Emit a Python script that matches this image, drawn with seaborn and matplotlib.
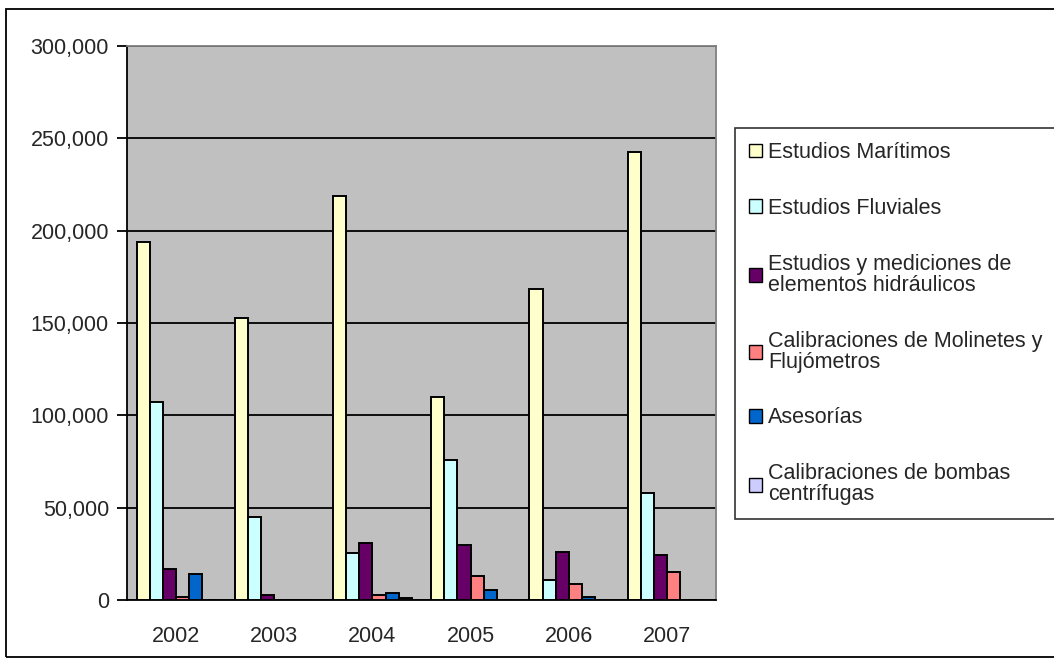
import pandas as pd
import seaborn as sns
import matplotlib.pyplot as plt
import matplotlib.patches as mpatches
from matplotlib.ticker import FuncFormatter, FixedLocator

years = ['2002', '2003', '2004', '2005', '2006', '2007']
series = ['Estudios Marítimos', 'Estudios Fluviales',
          'Estudios y mediciones de\nelementos hidráulicos',
          'Calibraciones de Molinetes y\nFlujómetros',
          'Asesorías',
          'Calibraciones de bombas\ncentrífugas']
maritimos = [194000, 152500, 219000, 110000, 168500, 242500]
fluviales = [107000, 45000, 25300, 76000, 11000, 58000]
hidraulicos = [16800, 2900, 31000, 30000, 26000, 24500]
molinetes = [1800, 0, 2700, 13000, 8500, 15000]
asesorias = [14000, 0, 3800, 5400, 1800, 0]
bombas = [0, 0, 900, 0, 0, 0]
colors = ['#FFFFCC', '#CCFFFF', '#660066', '#FF8080', '#0066CC', '#CCCCFF']

values = [maritimos, fluviales, hidraulicos, molinetes, asesorias, bombas]
df = pd.DataFrame([(y, s, v[i]) for s, v in zip(series, values)
                   for i, y in enumerate(years)],
                  columns=['year', 'serie', 'value'])

sns.set_style('white')
plt.rcParams['font.family'] = ['Liberation Sans', 'DejaVu Sans']

fig = plt.figure(figsize=(10.54, 6.65), dpi=100)
ax = fig.add_axes([127 / 1054, 1 - 600 / 665, (716 - 127) / 1054, (600 - 46) / 665])

sns.barplot(data=df, x='year', y='value', hue='serie', hue_order=series,
            palette=colors, edgecolor='black', linewidth=1.4, width=0.8,
            saturation=1, legend=False, ax=ax, zorder=3)

ax.set_facecolor('#C0C0C0')
ax.set_ylim(0, 300000)
ax.set_xlim(-0.5, 5.5)
ax.set_yticks(range(0, 300001, 50000))
ax.yaxis.set_major_formatter(FuncFormatter(lambda v, p: f'{int(v):,}'))
ax.yaxis.grid(True, color='black', linewidth=1.3, zorder=1)
ax.set_axisbelow(True)
ax.set_xlabel('')
ax.set_ylabel('')

ax.xaxis.set_minor_locator(FixedLocator([i - 0.5 for i in range(7)]))
ax.tick_params(axis='x', which='major', length=0, pad=19, labelsize=15.5)
ax.tick_params(axis='x', which='minor', length=7, width=1.3, color='black', direction='out')
ax.tick_params(axis='y', length=7, width=1.3, color='black', direction='out',
               left=True, pad=6, labelsize=15.5)

for side in ['left', 'bottom']:
    ax.spines[side].set_color('black')
    ax.spines[side].set_linewidth(1.3)
for side in ['top', 'right']:
    ax.spines[side].set_color('#808080')
    ax.spines[side].set_linewidth(1.3)

handles = [mpatches.Patch(facecolor=c, edgecolor='black', linewidth=1) for c in colors]
leg = fig.legend(handles, series, loc='upper left',
                 bbox_to_anchor=(735 / 1054, 1 - 128 / 665),
                 fontsize=15.5, frameon=True, fancybox=False,
                 handlelength=0.6, handleheight=0.6, handletextpad=0.3,
                 labelspacing=1.62, borderpad=0.65, borderaxespad=0)
for t in leg.get_texts():
    t.set_linespacing(1.0)
leg.get_frame().set_edgecolor('black')
leg.get_frame().set_linewidth(1.2)

fig.patches.append(mpatches.Rectangle((6 / 1054, 1 - 657 / 665), 1.1, (657 - 9) / 665,
                                      transform=fig.transFigure, fill=False,
                                      edgecolor='black', linewidth=1.3))

fig.savefig('out.png', dpi=100)
